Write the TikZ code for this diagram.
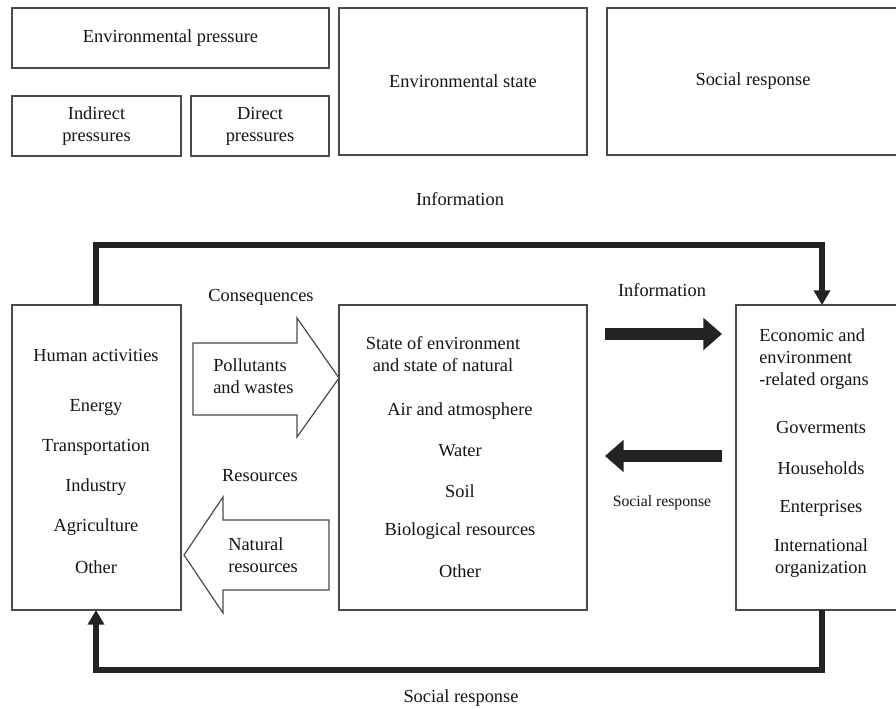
\documentclass[tikz,border=0pt]{standalone}
\usepackage{fontspec}
\setmainfont{Liberation Serif}
\usetikzlibrary{arrows.meta,fit}
\definecolor{edge}{HTML}{4A4A4A}
\definecolor{ink}{HTML}{151515}
\definecolor{heavy}{HTML}{232323}
\begin{document}
\begin{tikzpicture}[x=0.75pt,y=-0.75pt,
  box/.style={draw=edge, line width=0.9pt, inner sep=0pt, outer sep=0pt},
  txt/.style={font=\fontsize{13.8}{16.5}\selectfont, text=ink, align=center, inner sep=0pt},
  txtl/.style={txt, align=left, anchor=west},
  small/.style={font=\fontsize{11.8}{14}\selectfont, text=ink, inner sep=0pt},
  loopline/.style={draw=heavy, line width=4.6pt, line join=miter,
    -{Triangle[length=11pt,width=12pt]}},
  darkarrow/.style={draw=heavy, line width=8.3pt,
    -{Triangle[length=14pt,width=23.5pt]}},
  hollow/.style={draw=edge, line width=0.9pt, fill=white, line join=miter}]
\clip (0,0) rectangle (896,709);
\fill[white] (0,0) rectangle (896,709);

% --- upper legend boxes ---
\node[box, fit={(12,8) (329,68)}] (envp) {};
\node[box, fit={(12,96) (181,156)}] (indp) {};
\node[box, fit={(191,96) (329,156)}] (dirp) {};
\node[box, fit={(339,8) (587,155)}] (envs) {};
\node[box, fit={(607,8) (902,155)}] (socr) {};
\node[txt] (tenvp) at (envp.center) {Environmental pressure};
\node[txt] (tindp) at (indp.center) {Indirect\\pressures};
\node[txt] (tdirp) at (dirp.center) {Direct\\pressures};
\node[txt] (tenvs) at (envs.center) {Environmental state};
\node[txt] (tsocr) at (socr.center -| 753,0) {Social response};
\node[txt] (tinfo1) at (460,199) {Information};

% --- main boxes ---
\node[box, fit={(12,305) (181,610)}] (ha) {};
\node[box, fit={(339,305) (587,610)}] (st) {};
\node[box, fit={(736,305) (902,610)}] (eco) {};

% human activities
\node[txt] (h0) at (96,355) {Human activities};
\node[txt] (h1) at (96,407) {Energy};
\node[txt] (h2) at (96,447) {Transportation};
\node[txt] (h3) at (96,487) {Industry};
\node[txt] (h4) at (96,527) {Agriculture};
\node[txt] (h5) at (96,567) {Other};

% state of environment
\node[txt] (s0) at (443,354) {State of environment\\and state of natural};
\node[txt] (s1) at (460,411) {Air and atmosphere};
\node[txt] (s2) at (460,451) {Water};
\node[txt] (s3) at (460,491) {Soil};
\node[txt] (s4) at (460,531) {Biological resources};
\node[txt] (s5) at (460,571) {Other};

% organs
\node[txtl] (e0) at (759,359) {Economic and\\environment\\-related organs};
\node[txt] (e1) at (821,427) {Goverments};
\node[txt] (e2) at (821,468) {Households};
\node[txt] (e3) at (821,508) {Enterprises};
\node[txt] (e4) at (821,558) {International\\organization};

% --- hollow flow arrows ---
\draw[hollow] (193,343) -- (297,343) -- (297,318) -- (st.west |- 0,378)
  -- (297,437) -- (297,415) -- (193,415) -- cycle;
\draw[hollow] (329,520) -- (223,520) -- (223,497) -- (184,555)
  -- (223,613) -- (223,590) -- (329,590) -- cycle;
\node[txtl] (pw) at (213,376) {Pollutants\\and wastes};
\node[txtl] (nr) at (228,555) {Natural\\resources};
\node[txt] (cons) at (261,297) {Consequences};
\node[txt] (res) at (260,476) {Resources};

% --- heavy arrows between state and organs ---
\coordinate (ia) at (605,334);
\coordinate (ib) at (722,334);
\coordinate (ra) at (722,456);
\coordinate (rb) at (605,456);
\draw[darkarrow] (ia) -- (ib);
\draw[darkarrow] (ra) -- (rb);
\node[txt] (tinfo2) at (662,290) {Information};
\node[small] (tsr) at (662,503) {Social response};

% --- feedback loops ---
\coordinate (tl) at (96,245);
\coordinate (tr) at (822,245);
\draw[loopline] (tl |- ha.north) -- (tl) -- (tr) -- (tr |- eco.north);
\coordinate (bl) at (96,670);
\coordinate (br) at (822,670);
\draw[loopline] (br |- eco.south) -- (br) -- (bl) -- (bl |- ha.south);
\node[txt] (tsr2) at (461,698) {Social response};
\end{tikzpicture}
\end{document}
